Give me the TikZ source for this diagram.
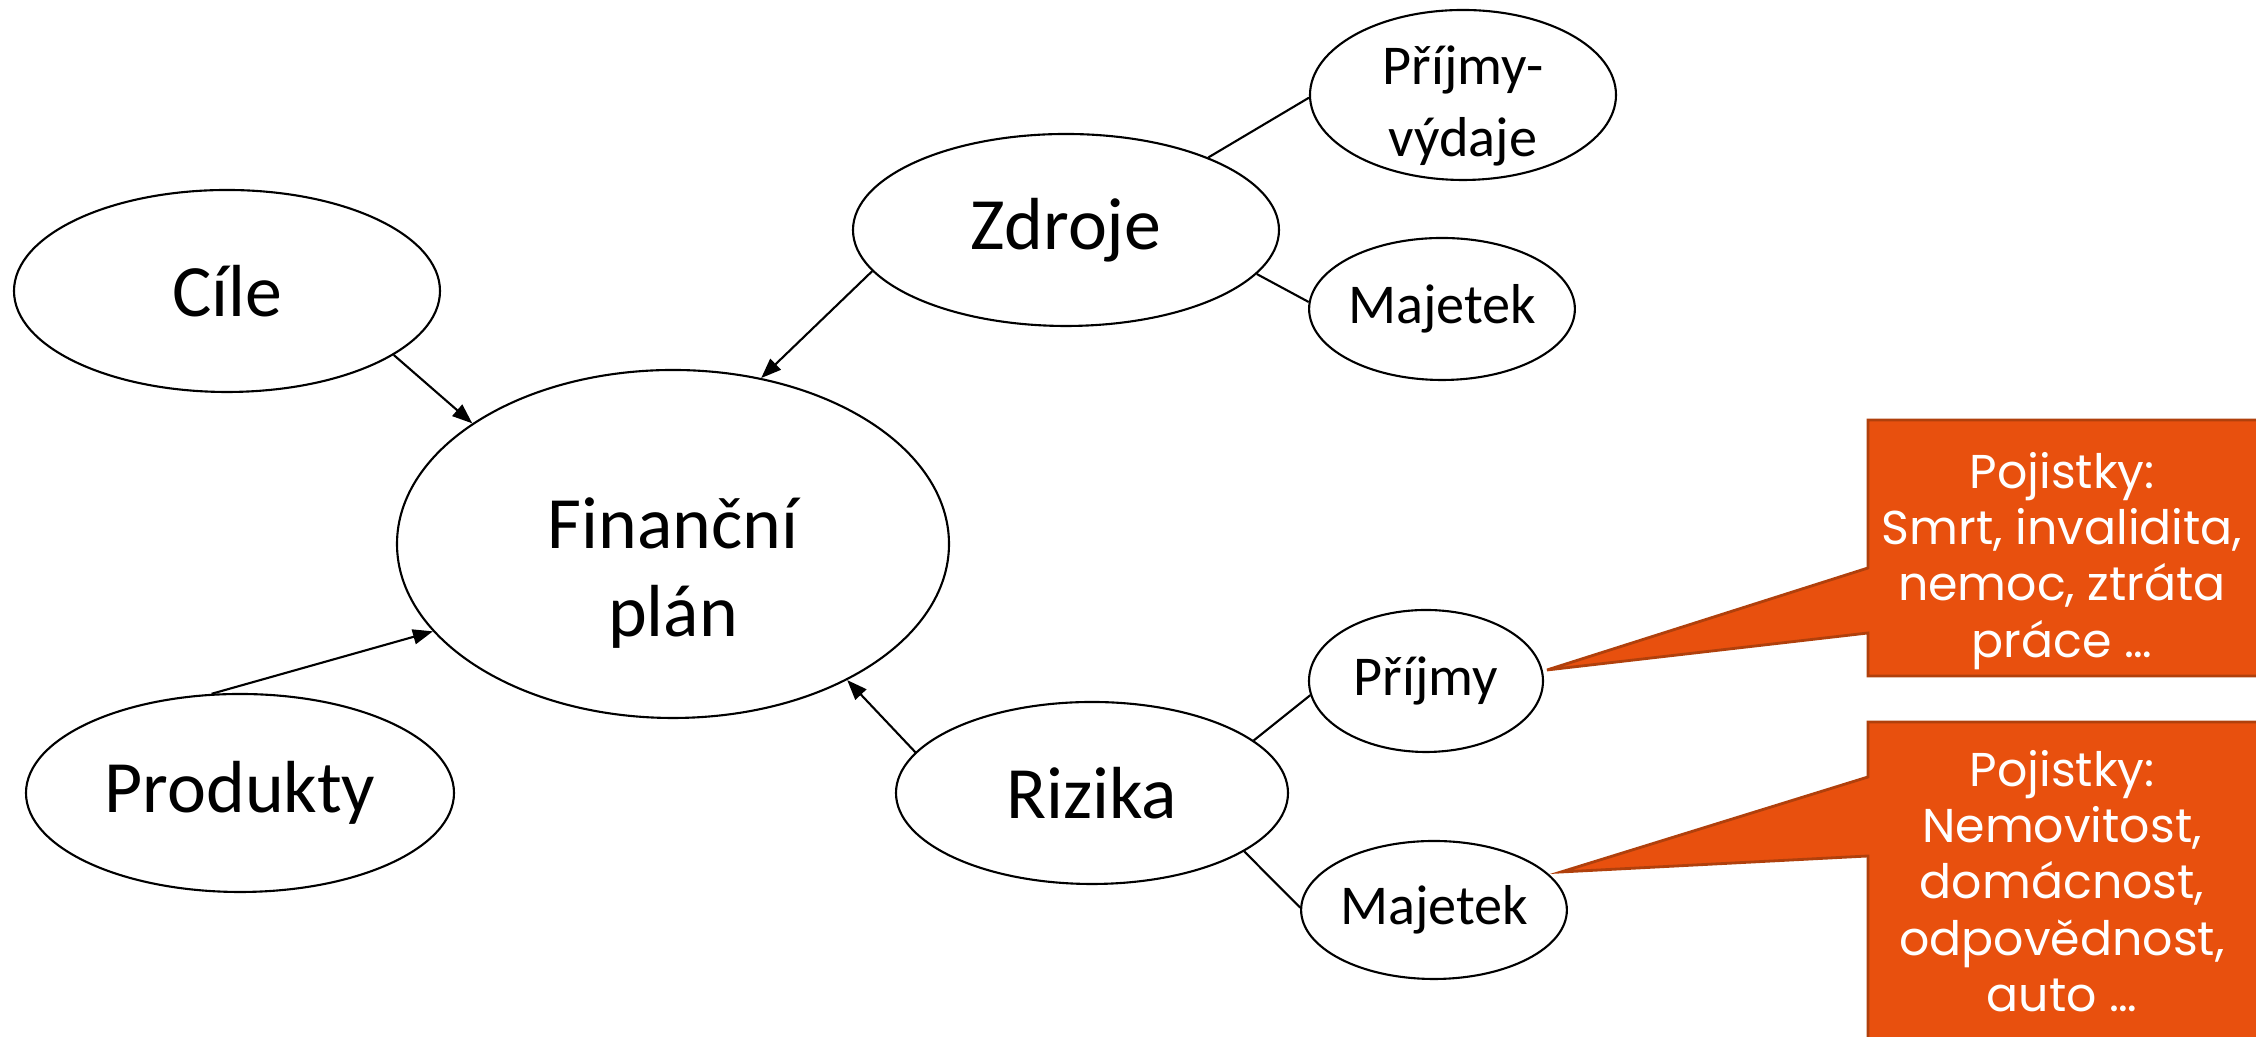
\documentclass[tikz,border=0pt]{standalone}
\usepackage{fontspec}
\setmainfont{Carlito}
\newfontfamily\calloutfont{Poppins}
\usetikzlibrary{shapes.geometric,arrows.meta}
\definecolor{calloutfill}{HTML}{E8500E}
\definecolor{calloutline}{HTML}{B0400C}
\tikzset{
  bubble/.style={ellipse,draw,line width=0.6pt,inner sep=0pt,align=center},
  bigtext/.style={font=\fontsize{21}{25}\selectfont},
  smalltext/.style={font=\fontsize{16}{20.5}\selectfont},
  link/.style={line width=0.6pt},
  feeds/.style={line width=0.6pt,-{Triangle[length=2mm,width=1.5mm]}},
  callout/.style={fill=calloutfill,draw=calloutline,line width=0.8pt},
  callouttext/.style={text=white,align=center,font=\calloutfont\fontsize{13.5}{16}\selectfont}
}
\begin{document}
\begin{tikzpicture}
\useasboundingbox (0,0) rectangle (22.56,10.37);
%\draw[step=1cm,gray,very thin] (0,0) grid (22.56,10.37); %background grid
\node[bubble,bigtext,minimum width=4.26cm,minimum height=2.02cm] (cile) at (2.27,7.46) {Cíle};
\node[bubble,minimum width=5.52cm,minimum height=3.48cm,
  label={[bigtext,align=center,yshift=-2.9mm]center:Finanční\\plán}] (plan) at (6.73,4.93) {};
\node[bubble,bigtext,minimum width=4.28cm,minimum height=1.98cm] (produkty) at (2.40,2.44) {Produkty};
\node[bubble,bigtext,minimum width=4.26cm,minimum height=1.92cm] (zdroje) at (10.66,8.07) {Zdroje};
\node[bubble,bigtext,minimum width=3.92cm,minimum height=1.82cm] (rizika) at (10.92,2.44) {Rizika};
\node[bubble,minimum width=3.06cm,minimum height=1.70cm,
  label={[smalltext,align=center,yshift=-1.1mm]center:Příjmy-\\výdaje}] (prijmyvydaje) at (14.63,9.42) {};
\node[bubble,smalltext,minimum width=2.64cm,minimum height=1.42cm] (majetekzdroj) at (14.42,7.28) {Majetek};
\node[bubble,smalltext,minimum width=2.34cm,minimum height=1.42cm] (prijmy) at (14.26,3.56) {Příjmy};
\node[bubble,smalltext,minimum width=2.50cm,minimum height=1.38cm] (majetekriz) at (14.34,1.27) {Majetek};

\draw[feeds] (cile.-21) -- (plan.149);
\draw[feeds] (zdroje.-168) -- (plan.62);
\draw[feeds] (produkty.106) -- (plan.-160);
\draw[feeds] (rizika.167) -- (plan.-38);

\draw[link] (zdroje.27) -- (prijmyvydaje.181);
\draw[link] (zdroje.-13) -- (majetekzdroj.177);
\draw[link] (rizika.18) -- (prijmy.-173);
\draw[link] (rizika.-21) -- (majetekriz.179);

% callouts
\filldraw[callout] (18.68,6.17) -- (22.70,6.17) -- (22.70,3.61) -- (18.68,3.61) -- (18.68,4.04) -- (15.47,3.67) -- (18.68,4.69) -- cycle;
\node[callouttext] (pojprijmy) at (20.62,4.76) {Pojistky:\\Smrt, invalidita,\\nemoc, ztráta\\práce …};
\filldraw[callout] (18.68,3.15) -- (22.70,3.15) -- (22.70,-0.2) -- (18.68,-0.2) -- (18.68,1.81) -- (15.61,1.65) -- (18.68,2.60) -- cycle;
\node[callouttext] (pojmajetek) at (20.62,1.56) {Pojistky:\\Nemovitost,\\domácnost,\\odpovědnost,\\auto …};
\end{tikzpicture}
\end{document}
